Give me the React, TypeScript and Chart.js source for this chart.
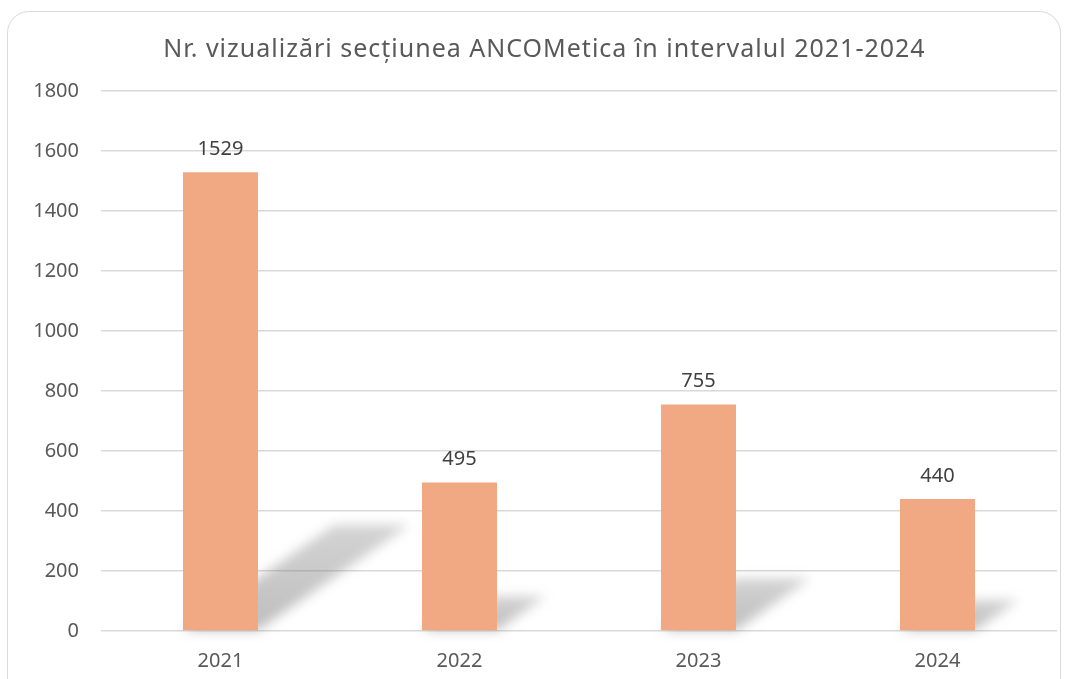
import React, { useEffect, useRef } from "react";
import { Chart, registerables } from "chart.js";

Chart.register(...registerables);

const categories = ["2021", "2022", "2023", "2024"];
const views = [1529, 495, 755, 440];
const titleText = "Nr. vizualizări secțiunea ANCOMetica în intervalul 2021-2024";
const yMax = 1800;
const yStep = 200;

const FONT = "'Noto Sans', 'Open Sans', sans-serif";

const shadowPlugin = {
  id: "barShadow",
  beforeDatasetsDraw(chart: any) {
    const ctx = chart.ctx;
    const meta = chart.getDatasetMeta(0);
    ctx.save();
    ctx.filter = "blur(6px)";
    meta.data.forEach((bar: any) => {
      const h = bar.base - bar.y;
      const x0 = bar.x - bar.width / 2;
      const x1 = bar.x + bar.width / 2;
      const dx = h * 0.33;
      const dy = h * 0.23;
      const grad = ctx.createLinearGradient(0, bar.base, 0, bar.base - dy);
      grad.addColorStop(0, "rgba(110,110,110,0.45)");
      grad.addColorStop(1, "rgba(110,110,110,0.30)");
      ctx.fillStyle = grad;
      ctx.beginPath();
      ctx.moveTo(x0, bar.base);
      ctx.lineTo(x1, bar.base);
      ctx.lineTo(x1 + dx, bar.base - dy);
      ctx.lineTo(x0 + dx, bar.base - dy);
      ctx.closePath();
      ctx.fill();
    });
    ctx.restore();
  },
};

const labelPlugin = {
  id: "valueLabels",
  afterDatasetsDraw(chart: any) {
    const ctx = chart.ctx;
    const meta = chart.getDatasetMeta(0);
    const data = chart.data.datasets[0].data;
    ctx.save();
    ctx.font = `20px ${FONT}`;
    ctx.fillStyle = "#404040";
    ctx.textAlign = "center";
    ctx.textBaseline = "middle";
    meta.data.forEach((bar: any, i: number) => {
      ctx.fillText(String(data[i]), bar.x, bar.y - 23);
    });
    ctx.restore();
  },
};

const titlePlugin = {
  id: "spacedTitle",
  afterDraw(chart: any) {
    const ctx = chart.ctx;
    ctx.save();
    ctx.font = `25px ${FONT}`;
    (ctx as any).letterSpacing = "1px";
    ctx.fillStyle = "#595959";
    ctx.textAlign = "center";
    ctx.textBaseline = "middle";
    ctx.fillText(titleText, chart.width / 2 + 12, 50);
    ctx.restore();
  },
};

export default function App() {
  const ref = useRef<HTMLCanvasElement>(null);
  useEffect(() => {
    if (!ref.current) return;
    const chart = new Chart(ref.current, {
      type: "bar",
      data: {
        labels: categories,
        datasets: [
          {
            data: views,
            backgroundColor: "#F1A983",
            borderWidth: 0,
            categoryPercentage: 1,
            barPercentage: 0.314,
          },
        ],
      },
      options: {
        animation: false,
        responsive: false,
        layout: { padding: { left: 0, right: 8, top: 91, bottom: 0 } },
        plugins: {
          legend: { display: false },
          tooltip: { enabled: false },
          title: { display: false },
        },
        scales: {
          x: {
            grid: { display: false, drawTicks: false },
            border: { display: false },
            ticks: {
              color: "#595959",
              font: { family: FONT, size: 20 },
              padding: 18,
            },
            afterFit(scale: any) {
              scale.height = 48;
            },
          },
          y: {
            min: 0,
            max: yMax,
            ticks: {
              stepSize: yStep,
              color: "#595959",
              font: { family: FONT, size: 20 },
              padding: 22,
              callback: (v: any) => String(v),
            },
            grid: { color: "#d9d9d9", lineWidth: 1.5, drawTicks: false },
            border: { display: false },
            afterFit(scale: any) {
              scale.width = 101;
            },
          },
        },
      },
      plugins: [shadowPlugin, labelPlugin, titlePlugin],
    });
    return () => chart.destroy();
  }, []);

  return (
    <div
      style={{
        position: "fixed",
        left: 0,
        top: 0,
        width: 1065,
        height: 679,
        background: "#fff",
        overflow: "hidden",
      }}
    >
      <div
        style={{
          position: "absolute",
          left: 7,
          top: 11,
          width: 1054,
          height: 720,
          border: "1px solid #d9d9d9",
          borderRadius: 22,
          boxSizing: "border-box",
        }}
      />
      <canvas
        ref={ref}
        width={1065}
        height={679}
        style={{ position: "absolute", left: 0, top: 0 }}
      />
    </div>
  );
}
